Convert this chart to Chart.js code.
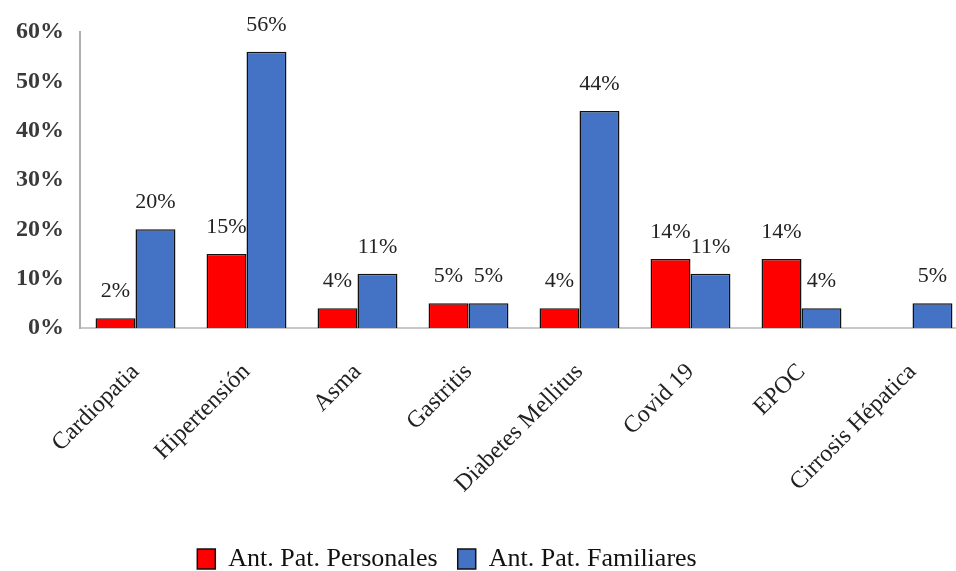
<!DOCTYPE html>
<html>
<head>
<meta charset="utf-8">
<script src="https://cdn.jsdelivr.net/npm/chart.js@4/dist/chart.umd.min.js"></script>
<style>
  html, body { margin: 0; padding: 0; background: #fff; overflow: hidden; }
  #wrap { width: 968px; height: 571px; }
</style>
</head>
<body>
<div id="wrap"><canvas id="antecedentes-chart"></canvas></div>
<script>
const categories = ['Cardiopatia', 'Hipertensión', 'Asma', 'Gastritis', 'Diabetes Mellitus', 'Covid 19', 'EPOC', 'Cirrosis Hépatica'];
const personales = [2, 15, 4, 5, 4, 14, 14, null];
const familiares = [20, 56, 11, 5, 44, 11, 4, 5];
const yTicks = [0, 10, 20, 30, 40, 50, 60];

const serif = "'Liberation Serif', 'Times New Roman', serif";

// etiquetas de porcentaje encima de cada barra
const barLabels = {
  id: 'barLabels',
  afterDatasetsDraw(chart) {
    const ctx = chart.ctx;
    ctx.save();
    ctx.font = '22px ' + serif;
    ctx.fillStyle = '#222';
    ctx.textAlign = 'center';
    ctx.textBaseline = 'middle';
    chart.data.datasets.forEach((ds, i) => {
      chart.getDatasetMeta(i).data.forEach((bar, j) => {
        if (ds.data[j] == null) return;
        ctx.fillText(ds.data[j] + '%', bar.x, bar.y - 27);
      });
    });
    ctx.restore();
  }
};

// la leyenda del original queda un poco a la izquierda y abajo
const moveLegend = {
  id: 'moveLegend',
  afterLayout(chart) {
    const lg = chart.legend;
    lg.left -= 37; lg.right -= 37;
    lg.top += 11; lg.bottom += 11;
  }
};

const config = {
  type: 'bar',
  data: {
    labels: categories,
    datasets: [{
      label: 'Ant. Pat. Personales',
      data: personales,
      backgroundColor: '#ff0000',
      borderColor: '#111',
      borderWidth: 1.5
    }, {
      label: 'Ant. Pat. Familiares',
      data: familiares,
      backgroundColor: '#4472c4',
      borderColor: '#111',
      borderWidth: 1.5
    }]
  },
  options: {
    responsive: true,
    maintainAspectRatio: false,
    animation: false,
    layout: { padding: { top: 32, right: 0, left: 0, bottom: 0 } },
    datasets: { bar: { categoryPercentage: 0.72, barPercentage: 1 } },
    plugins: {
      tooltip: { enabled: false },
      legend: {
        position: 'bottom',
        labels: {
          font: { family: serif, size: 26 },
          color: '#111',
          boxWidth: 18,
          boxHeight: 20,
          padding: 20
        }
      }
    },
    scales: {
      x: {
        grid: { display: false, drawTicks: false },
        border: { color: '#c8c8c8', width: 2 },
        ticks: {
          font: { family: serif, size: 24 },
          color: '#222',
          maxRotation: 45,
          minRotation: 45,
          padding: 30
        },
        afterFit(scale) { scale.height = 187; }
      },
      y: {
        min: 0,
        max: 60,
        grid: { display: false, drawTicks: false },
        border: { color: '#b0b0b0', width: 2 },
        afterBuildTicks(scale) { scale.ticks = yTicks.map(v => ({ value: v })); },
        ticks: {
          font: { family: serif, size: 24, weight: 'bold' },
          color: '#3a3a3a',
          padding: 16,
          callback: v => v + '%'
        },
        afterFit(scale) { scale.width = 80; }
      }
    }
  },
  plugins: [barLabels, moveLegend]
};

new Chart(document.getElementById('antecedentes-chart'), config);
</script>
</body>
</html>
